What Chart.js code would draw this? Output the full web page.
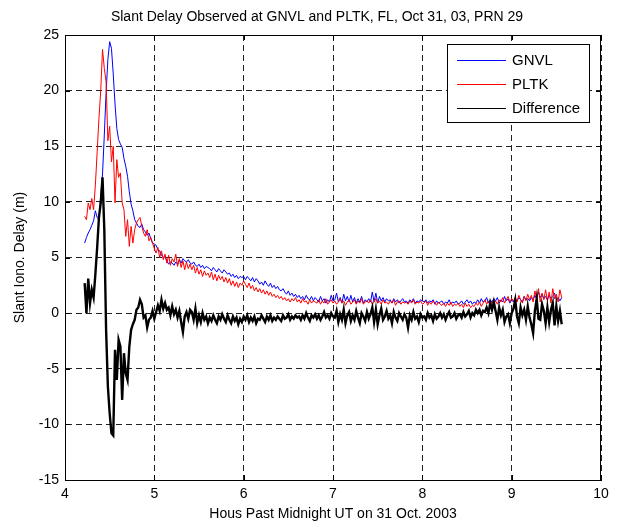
<!DOCTYPE html>
<html>
<head>
<meta charset="utf-8">
<script src="https://cdn.jsdelivr.net/npm/chart.js@4/dist/chart.umd.min.js"></script>
<style>
  body { margin: 0; background: #fff; }
  canvas { display: block; }
</style>
</head>
<body>
<canvas id="delayChart" width="624" height="527"></canvas>
<script>
// sample times (hours UT), one every 0.02 h from 4.22 to 9.56
const hoursStart = 4.22;
const hoursStep = 0.02;
const hoursCount = 268;

const xTicks = [4, 5, 6, 7, 8, 9, 10];
const yTicks = [-15, -10, -5, 0, 5, 10, 15, 20, 25];

const chartTitle = "Slant Delay Observed at GNVL and PLTK, FL, Oct 31, 03, PRN 29";

// slant delay at GNVL (m)
const gnvl = [
  6.3, 6.8, 7.2, 7.5, 7.9, 8.3, 9.2, 8.6, 8.4, 10.5,
  12.5, 16.0, 19.8, 22.8, 24.4, 23.8, 21.5, 18.8, 16.6, 15.6,
  15.2, 14.9, 13.9, 13.2, 12.3, 10.9, 9.8, 9.2, 8.4, 8.1,
  7.8, 7.7, 8.0, 7.5, 7.3, 7.0, 7.2, 6.7, 6.3, 6.2,
  6.1, 5.7, 5.6, 5.2, 5.0, 5.1, 4.7, 4.4, 4.6, 4.5,
  4.3, 4.6, 4.4, 4.8, 4.5, 4.9, 4.7, 4.6, 4.8, 4.5,
  4.4, 4.6, 4.3, 4.2, 4.4, 4.1, 4.3, 4.0, 4.2, 4.1,
  4.0, 3.8, 4.1, 3.9, 3.7, 4.0, 3.8, 3.6, 3.9, 3.7,
  3.5, 3.6, 3.3, 3.5, 3.2, 3.4, 3.1, 3.3, 3.2, 3.3,
  3.0, 3.3, 3.1, 2.9, 3.2, 2.8, 3.1, 2.9, 2.6, 2.8,
  2.5, 2.9, 2.6, 2.4, 2.7, 2.3, 2.5, 2.2, 2.4, 2.1,
  2.0, 2.2, 1.9, 1.7, 2.0, 1.6, 1.8, 1.5, 1.7, 1.4,
  1.6, 1.3, 1.5, 1.2, 1.6, 1.3, 1.2, 1.5, 1.1, 1.4,
  1.2, 1.0, 1.5, 1.1, 1.3, 0.9, 1.2, 1.0, 1.6, 1.1,
  1.2, 1.8, 1.0, 1.4, 0.9, 1.7, 1.1, 1.5, 1.0, 1.6,
  1.0, 1.4, 0.9, 1.3, 1.0, 1.5, 0.9, 1.2, 1.0, 1.3,
  1.0, 1.9, 1.0, 1.8, 0.9, 1.5, 1.1, 1.4, 1.0, 1.3,
  1.1, 1.2, 0.9, 1.3, 1.0, 1.2, 0.9, 1.1, 1.3, 1.0,
  1.1, 0.9, 1.2, 1.0, 1.3, 0.9, 1.1, 1.0, 1.2, 1.1,
  1.0, 1.2, 0.9, 1.1, 1.0, 1.2, 0.8, 1.1, 0.9, 1.0,
  1.1, 0.8, 1.0, 0.9, 1.2, 0.8, 1.0, 0.9, 1.1, 0.8,
  0.9, 1.1, 0.8, 1.0, 1.2, 0.9, 1.1, 0.8, 1.0, 0.9,
  1.2, 0.9, 1.3, 1.0, 1.1, 1.4, 0.9, 1.2, 1.0, 1.3,
  1.1, 1.4, 0.9, 1.2, 1.0, 1.5, 1.1, 1.3, 0.9, 1.2,
  1.0, 1.3, 1.1, 1.4, 1.2, 1.0, 1.5, 1.2, 1.3, 1.1,
  1.4, 1.2, 1.6, 1.3, 1.9, 1.4, 1.7, 1.3, 1.5, 1.2,
  1.6, 1.3, 1.5, 1.8, 1.2, 1.4, 1.1, 1.4,
];

// slant delay at PLTK (m)
const pltk = [
  8.7, 8.4, 9.9, 9.3, 10.3, 9.3, 11.5, 14.5, 17.5, 20.0,
  23.7, 22.0, 20.8, 15.5, 16.8, 13.6, 15.0, 9.9, 13.8, 12.2,
  12.6, 9.9, 9.3, 6.9, 8.4, 6.0, 7.8, 6.3, 7.5, 8.1,
  8.4, 8.6, 7.8, 7.2, 6.9, 7.5, 6.5, 6.8, 6.3, 5.8,
  5.4, 5.9, 5.0, 5.6, 4.8, 5.3, 4.5, 5.2, 4.3, 4.9,
  4.6, 5.3, 4.2, 4.9, 4.1, 4.7, 3.9, 4.6, 4.0, 4.4,
  3.9, 4.3, 3.6, 4.1, 3.5, 3.9, 3.3, 3.8, 3.4, 3.6,
  3.2, 3.7, 3.0, 3.5, 2.9, 3.4, 3.0, 3.3, 2.8, 3.2,
  2.7, 3.1, 2.5, 2.9, 2.4, 2.8, 2.3, 2.7, 2.5, 2.9,
  2.6, 2.3, 2.7, 2.2, 2.5, 2.0, 2.3, 1.9, 2.2, 1.8,
  2.1, 1.7, 2.0, 1.6, 1.9, 1.5, 1.7, 1.4, 1.6, 1.3,
  1.5, 1.2, 1.4, 1.1, 1.3, 1.0, 1.3, 1.1, 1.4, 1.0,
  1.2, 0.9, 1.3, 1.0, 1.1, 0.8, 1.2, 0.9, 1.1, 1.0,
  0.9, 1.2, 0.8, 1.1, 0.9, 1.3, 0.8, 1.0, 1.2, 0.9,
  1.1, 0.8, 1.0, 1.3, 0.9, 1.1, 0.7, 1.0, 1.2, 0.8,
  1.0, 1.2, 0.8, 1.1, 0.9, 1.3, 0.8, 1.0, 1.1, 0.9,
  1.2, 0.8, 1.0, 1.3, 0.9, 1.1, 0.8, 1.2, 0.9, 1.0,
  0.8, 1.1, 0.9, 1.2, 0.7, 1.0, 1.1, 0.8, 1.0, 0.9,
  1.0, 0.8, 1.1, 0.9, 1.2, 0.8, 1.0, 0.9, 1.1, 0.8,
  0.9, 1.1, 0.7, 1.0, 0.8, 1.1, 0.9, 0.7, 1.0, 0.8,
  0.7, 0.9, 0.6, 0.9, 0.7, 1.0, 0.6, 0.8, 0.7, 0.9,
  0.6, 0.8, 0.5, 0.9, 0.6, 0.8, 0.5, 0.7, 0.6, 0.9,
  0.7, 1.0, 0.6, 0.9, 1.2, 0.8, 1.1, 0.7, 1.0, 0.8,
  1.1, 0.8, 1.2, 1.0, 1.4, 0.9, 1.2, 1.5, 1.0, 1.3,
  1.1, 1.4, 1.0, 1.6, 1.2, 0.9, 1.5, 1.1, 1.7, 1.2,
  1.6, 1.0, 2.0, 1.3, 2.2, 1.0, 1.8, 1.2, 2.1, 1.1,
  1.9, 0.9, 2.2, 1.3, 1.7, 1.0, 2.1, 1.4,
];

// difference between the two stations (m)
const difference = [
  2.7, 0.0, 3.1, 0.9, 2.1, 1.4, 3.5, 5.9, 8.6, 9.9,
  12.2, 7.5, -1.5, -6.6, -9.0, -10.8, -11.0, -3.3, -6.0, -2.4,
  -3.0, -7.8, -3.6, -5.4, -6.0, -3.0, -1.5, -1.0, -0.6, 0.3,
  0.5, 1.2, 0.8, -0.4, -0.2, -1.3, -0.6, -0.4, 0.2, -0.5,
  0.1, 0.7, 0.2, 1.2, 0.4, 0.9, 0.3, 0.5, -0.2, 0.6,
  -0.1, 0.3, -0.4, 0.2, -0.8, -1.7, -0.3, 0.1, -0.5, 0.3,
  0.1, -0.6, 0.4, -0.9, -0.2, -0.8, 0.0, -0.6, -0.3, -0.9,
  -0.4, -0.7, -0.2, -0.6, -0.9, -0.3, -0.6, -0.1, -0.5, -0.8,
  -0.2, -0.6, -0.9, -0.3, -0.7, -0.4, -1.0, -0.5, -0.8, -0.3,
  -0.6, -0.2, -0.8, -0.4, -0.7, -0.3, -0.9, -0.5, -0.6, -0.2,
  -0.5, -0.8, -0.3, -0.6, -0.2, -0.7, -0.4, -0.6, -0.3, -0.5,
  -0.7, -0.2, -0.5, -0.4, -0.1, -0.6, -0.3, -0.5, -0.2, -0.4,
  -0.3, -0.6, -0.2, -0.5, 0.0, -0.4, -0.7, -0.2, -0.4, -0.1,
  -0.5, -0.2, -0.6, -0.3, 0.1, -0.4, -0.2, -0.5, 0.0, -0.3,
  -0.4, 0.2, -0.8, -0.1, -0.6, 0.3, -0.9, -0.2, 0.1, -0.7,
  -0.2, -0.6, 0.2, -0.4, -0.9, 0.0, -0.3, -0.7, 0.1, -0.5,
  -0.1, 0.5, -0.8, 0.3, -1.0, -0.2, 0.4, -0.6, -0.3, 0.2,
  -0.5, -0.2, -0.9, 0.1, -0.4, -0.7, 0.0, -0.3, -0.6, -0.1,
  -0.4, -1.3, -0.2, -0.6, 0.1, -0.5, -0.3, -0.8, -0.1, -0.4,
  -0.3, -0.6, 0.0, -0.4, -0.2, -0.7, -0.1, -0.5, -0.3, 0.0,
  -0.4, -0.1, -0.6, -0.2, 0.1, -0.4, -0.3, 0.0, -0.5, -0.2,
  -0.1, -0.4, 0.1, -0.3, -0.1, 0.2, -0.4, 0.0, -0.2, 0.3,
  0.0, 0.3, -0.2, 0.2, 0.1, 0.5, 0.0, 0.9, 0.3, 1.0,
  0.2, -0.6, 0.5, -0.2, 0.3, -0.8, -0.3, -0.1, -0.9, 0.0,
  0.4, 1.2, -0.3, -0.9, 0.5, -0.2, 0.3, -0.6, 0.6, -0.4,
  -1.0, -1.8, 0.2, 1.3, -0.5, -0.6, 0.8, 0.2, -0.9, 0.5,
  -0.8, 0.3, 0.9, -1.1, 0.6, -0.7, 0.2, -1.0,
];

const hours = [];
for (let i = 0; i < hoursCount; i++) {
  hours.push(+(hoursStart + hoursStep * i).toFixed(2));
}

const toPoints = (values) => values.map((v, i) => ({ x: hours[i], y: v }));

const FONT = "'Liberation Sans', Arial, sans-serif";

// white background, title, closed axes box with inward ticks, boxed legend
const matlabFrame = {
  id: "matlabFrame",
  beforeDraw(chart) {
    const ctx = chart.ctx;
    ctx.save();
    ctx.fillStyle = "#fff";
    ctx.fillRect(0, 0, chart.width, chart.height);
    ctx.restore();
  },
  afterDraw(chart) {
    const ctx = chart.ctx;
    const { left, right, top, bottom } = chart.chartArea;
    const xs = chart.scales.x;
    const ys = chart.scales.y;
    ctx.save();

    ctx.fillStyle = "#000";
    ctx.font = "14px " + FONT;
    ctx.textAlign = "center";
    ctx.textBaseline = "middle";
    ctx.fillText(chartTitle, 317, 17);

    ctx.strokeStyle = "#000";
    ctx.lineWidth = 1;
    ctx.setLineDash([]);
    ctx.strokeRect(Math.round(left) + 0.5, Math.round(top) + 0.5,
      Math.round(right - left) - 1, Math.round(bottom - top));
    ctx.beginPath();
    xTicks.forEach((t) => {
      const px = Math.round(xs.getPixelForValue(t)) + 0.5;
      ctx.moveTo(px, bottom); ctx.lineTo(px, bottom - 5);
      ctx.moveTo(px, top); ctx.lineTo(px, top + 5);
    });
    yTicks.forEach((t) => {
      const py = Math.round(ys.getPixelForValue(t)) + 0.5;
      ctx.moveTo(left, py); ctx.lineTo(left + 5, py);
      ctx.moveTo(right, py); ctx.lineTo(right - 5, py);
    });
    ctx.stroke();

    // legend
    const box = { x: 447.5, y: 44.5, w: 142, h: 78 };
    ctx.fillStyle = "#fff";
    ctx.fillRect(box.x, box.y, box.w, box.h);
    ctx.strokeRect(box.x, box.y, box.w, box.h);
    ctx.font = "15px " + FONT;
    ctx.textBaseline = "middle";
    ctx.textAlign = "left";
    chart.data.datasets.forEach((ds, i) => {
      const y = Math.round(box.y + 15 + i * 24) + 0.5;
      ctx.strokeStyle = ds.borderColor;
      ctx.lineWidth = 1;
      ctx.beginPath();
      ctx.moveTo(457, y);
      ctx.lineTo(506, y);
      ctx.stroke();
      ctx.fillStyle = "#000";
      ctx.fillText(ds.label, 512, y);
    });
    ctx.restore();
  },
};

document.addEventListener("DOMContentLoaded", () => {
  const ctx = document.getElementById("delayChart").getContext("2d");
  new Chart(ctx, {
    type: "line",
    data: {
      datasets: [
        {
          label: "GNVL",
          data: toPoints(gnvl),
          borderColor: "#0000ff",
          borderWidth: 1,
          order: 3,
        },
        {
          label: "PLTK",
          data: toPoints(pltk),
          borderColor: "#ff0000",
          borderWidth: 1,
          order: 2,
        },
        {
          label: "Difference",
          data: toPoints(difference),
          borderColor: "#000000",
          borderWidth: 2.4,
          order: 1,
        },
      ],
    },
    options: {
      responsive: false,
      animation: false,
      devicePixelRatio: 1,
      layout: { padding: { left: 0, right: 23, top: 35, bottom: 0 } },
      elements: {
        point: { radius: 0 },
        line: { tension: 0, fill: false },
      },
      plugins: {
        legend: { display: false },
        tooltip: { enabled: false },
        title: { display: false },
      },
      scales: {
        x: {
          type: "linear",
          min: 4,
          max: 10,
          afterFit: (scale) => { scale.height = 47; },
          afterBuildTicks: (scale) => {
            scale.ticks = xTicks.map((v) => ({ value: v }));
          },
          ticks: {
            color: "#000",
            padding: 6,
            maxRotation: 0,
            font: { family: FONT, size: 14 },
          },
          grid: { color: "#222", lineWidth: 1, drawTicks: false },
          border: { display: true, color: "#000", dash: [6, 4] },
          title: {
            display: true,
            text: "Hous Past Midnight UT on 31 Oct. 2003",
            color: "#000",
            font: { family: FONT, size: 14, lineHeight: 1.2 },
            padding: { top: 0, bottom: 4 },
          },
        },
        y: {
          min: -15,
          max: 25,
          afterFit: (scale) => { scale.width = 65; },
          afterBuildTicks: (scale) => {
            scale.ticks = yTicks.map((v) => ({ value: v }));
          },
          ticks: {
            color: "#000",
            padding: 6,
            font: { family: FONT, size: 14 },
          },
          grid: { color: "#222", lineWidth: 1, drawTicks: false },
          border: { display: true, color: "#000", dash: [6, 4] },
          title: {
            display: true,
            text: "Slant Iono. Delay (m)",
            color: "#000",
            font: { family: FONT, size: 14, lineHeight: 1.2 },
            padding: { top: 12, bottom: 0 },
          },
        },
      },
    },
    plugins: [matlabFrame],
  });
});
</script>
</body>
</html>
